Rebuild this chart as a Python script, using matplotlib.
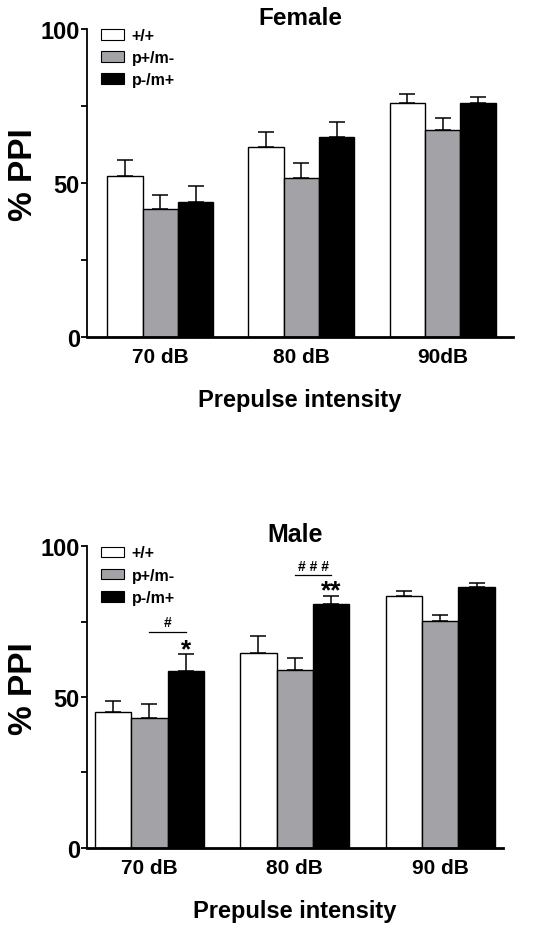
import numpy as np
import matplotlib
matplotlib.use('Agg')
import matplotlib.pyplot as plt
from matplotlib.ticker import MultipleLocator

plt.rcParams['font.family'] = ['Liberation Sans', 'DejaVu Sans']
plt.rcParams['font.weight'] = 'bold'

genotypes = ["+/+", "p+/m-", "p-/m+"]
colors = ["white", "#a3a3a7", "black"]

female_labels = ["70 dB", "80 dB", "90dB"]
female_mean = {"+/+": [52.2, 61.6, 76.1],
               "p+/m-": [41.6, 51.6, 67.2],
               "p-/m+": [43.8, 64.9, 76.1]}
female_sem = {"+/+": [5.4, 4.9, 2.9],
              "p+/m-": [4.6, 4.9, 4.0],
              "p-/m+": [5.3, 4.8, 1.8]}

male_labels = ["70 dB", "80 dB", "90 dB"]
male_mean = {"+/+": [44.9, 64.7, 83.6],
             "p+/m-": [43.2, 58.9, 75.2],
             "p-/m+": [58.8, 81.0, 86.5]}
male_sem = {"+/+": [3.7, 5.4, 1.7],
            "p+/m-": [4.6, 3.9, 2.1],
            "p-/m+": [5.4, 2.4, 1.4]}

width = 0.25

def draw_panel(ax, title, labels, means, sems, xlim, ylab_x, title_size):
    x = np.arange(len(labels))
    for i, g in enumerate(genotypes):
        pos = x + (i - 1) * width
        ax.bar(pos, means[g], width, color=colors[i], edgecolor='black',
               linewidth=1.0, label=g, zorder=2)
        ax.errorbar(pos, means[g], yerr=[np.zeros(len(labels)), sems[g]],
                    fmt='none', ecolor='black', elinewidth=1.1, capsize=6,
                    capthick=1.1, zorder=1)
    ax.set_xlim(xlim)
    ax.set_ylim(0, 100)
    ax.yaxis.set_major_locator(MultipleLocator(50))
    ax.yaxis.set_minor_locator(MultipleLocator(25))
    ax.set_xticks(x)
    ax.set_xticklabels(labels, fontsize=15, fontweight='bold')
    ax.tick_params(axis='x', length=0, pad=7)
    ax.tick_params(axis='y', which='major', length=4, width=1.3, labelsize=17, pad=1)
    ax.tick_params(axis='y', which='minor', length=4, width=1.3)
    for lab in ax.get_yticklabels():
        lab.set_fontweight('bold')
    ax.spines['top'].set_visible(False)
    ax.spines['right'].set_visible(False)
    ax.spines['left'].set_linewidth(1.3)
    ax.spines['bottom'].set_linewidth(2.0)
    ax.set_ylabel("% PPI", fontsize=24, fontweight='bold')
    ax.yaxis.set_label_coords(ylab_x, 0.53)
    ax.set_xlabel("Prepulse intensity", fontsize=17, fontweight='bold', labelpad=16)
    ax.set_title(title, fontsize=title_size, fontweight='bold', pad=3)
    leg = ax.legend(loc='upper left', bbox_to_anchor=(0.0, 1.05), frameon=False,
                    prop={'weight': 'bold', 'size': 11.5}, handlelength=1.4,
                    handleheight=0.65, labelspacing=0.45, handletextpad=0.5)
    for h in leg.legend_handles:
        h.set_edgecolor('black')
        h.set_linewidth(0.8)

fig = plt.figure(figsize=(5.46, 9.37), dpi=100)
ax1 = fig.add_axes([0.159, 0.639, 0.781, 0.329])
ax2 = fig.add_axes([0.159, 0.094, 0.762, 0.322])

draw_panel(ax1, "Female", female_labels, female_mean, female_sem, (-0.52, 2.5), -0.113, 17.5)
draw_panel(ax2, "Male", male_labels, male_mean, male_sem, (-0.43, 2.43), -0.116, 18)

# significance marks on the male panel
ax2.plot([0, width], [71.6, 71.6], color='black', lw=0.9)
ax2.text(width / 2, 72.5, "#", ha='center', va='bottom', fontsize=10, fontweight='bold')
ax2.text(width, 62.0, "*", ha='center', va='bottom', fontsize=19, fontweight='bold')
ax2.plot([1, 1 + width], [90.5, 90.5], color='black', lw=0.9)
ax2.text(1 + width / 2, 91.2, "# # #", ha='center', va='bottom', fontsize=10, fontweight='bold')
ax2.text(1 + width, 81.5, "**", ha='center', va='bottom', fontsize=19, fontweight='bold')

fig.savefig("out.png", dpi=100)
